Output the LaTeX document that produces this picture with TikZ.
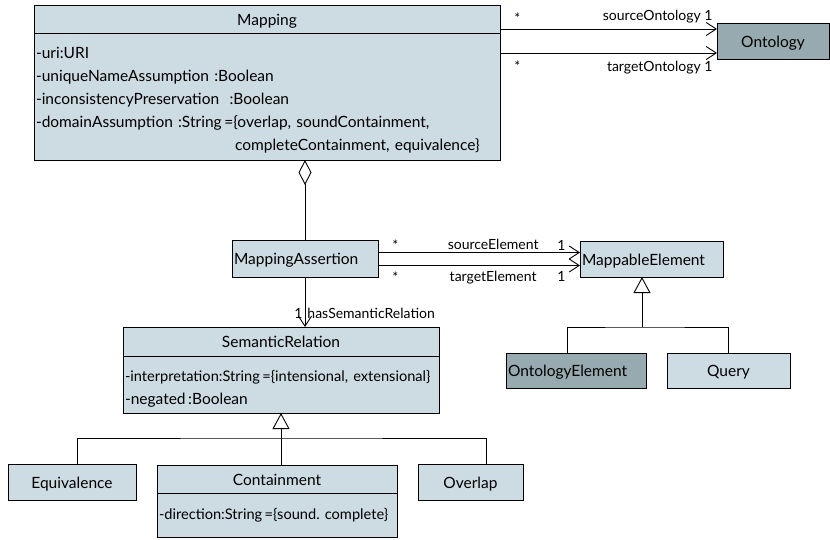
\documentclass[tikz,border=0pt]{standalone}
\usepackage{fontspec}
\setmainfont{Lato}
\usetikzlibrary{arrows.meta}
\definecolor{clslight}{RGB}{205,219,226}
\definecolor{clsdark}{RGB}{151,170,176}
\newcommand{\clsfont}{\fontsize{15.5}{23}\selectfont}
\newcommand{\rolefont}{\fontsize{14}{16}\selectfont}
\newcommand{\toprule}[1]{\rule{0pt}{#1}}
\frenchspacing

\begin{document}
\begin{tikzpicture}[x=1pt, y=-1pt, line width=0.9pt,
  cls/.style={draw, fill=clslight, outer sep=0pt, inner sep=2pt, anchor=north west, font=\clsfont},
  onel/.style={cls, text height=14pt, text depth=2pt},
  darkcls/.style={onel, fill=clsdark},
  attrs/.style={cls, align=left, text width=#1},
  assoc/.style={-{Straight Barb[length=10pt,width=13pt]}},
  gen/.style={-{Triangle[open,fill=white,length=16pt,width=17pt]}},
  aggr/.style={-{Diamond[open,fill=white,length=25pt,width=13pt]}},
  role/.style={font=\rolefont, inner sep=2pt}]
  \useasboundingbox (0,0) rectangle (830,539);

  % classes
  \node[onel, minimum width=466pt, minimum height=28pt] (maptitle) at (34,5) {Mapping};
  \node[attrs=462pt, minimum height=127pt] (mapattr) at (maptitle.south west)
    {\toprule{19pt}-uri:URI\\
     -uniqueNameAssumption :Boolean\\
     -inconsistencyPreservation\ \ :Boolean\\
     -domainAssumption :String\,=\{overlap, soundContainment,\\
     \hspace*{199pt}completeContainment, equivalence\}};
  \node[darkcls, minimum width=112pt, minimum height=36pt] (ontology) at (717,23) {Ontology};
  \node[onel, align=left, text width=142pt, minimum height=37pt] (massert) at (232,240) {MappingAssertion};
  \node[onel, align=left, text width=139pt, minimum height=36pt] (mappable) at (580,241) {MappableElement};
  \node[darkcls, align=left, text width=136pt, minimum height=35pt] (ontelem) at (506,353) {OntologyElement};
  \node[onel, minimum width=123pt, minimum height=35pt] (query) at (667,353) {Query};
  \node[onel, minimum width=316pt, minimum height=29pt] (semtitle) at (123,327) {SemanticRelation};
  \node[attrs=312pt, minimum height=57pt] (semattr) at (semtitle.south west)
    {\toprule{19pt}\mbox{\fontsize{14.6}{23}\selectfont-interpretation:String\,=\{intensional, extensional\}}\\
     -negated\,:Boolean};
  \node[onel, minimum width=128pt, minimum height=36pt] (equiv) at (8,464) {Equivalence};
  \node[onel, minimum width=240pt, minimum height=28pt] (contitle) at (157,465) {Containment};
  \node[attrs=236pt, minimum height=44pt] (conattr) at (contitle.south west)
    {\mbox{\fontsize{14.6}{23}\selectfont-direction:String\,=\{sound. complete\}}};
  \node[onel, minimum width=105pt, minimum height=36pt] (overlap) at (418,464) {Overlap};

  % associations to Ontology
  \coordinate (srcont) at ([yshift=12pt]ontology.west);
  \coordinate (tgtont) at ([yshift=-12pt]ontology.west);
  \draw[assoc] (maptitle.east |- srcont) -- (srcont)
    node[role, pos=0, above right, xshift=12pt, yshift=3pt] {*}
    node[role, pos=1, above left, xshift=-2pt, yshift=3pt] {sourceOntology 1};
  \draw[assoc] (maptitle.east |- tgtont) -- (tgtont)
    node[role, pos=0, below right, xshift=12pt, yshift=-6pt] {*}
    node[role, pos=1, below left, xshift=-2pt, yshift=-6pt] {targetOntology 1};

  % aggregation
  \draw[aggr] (massert.north) -- (massert.north |- mapattr.south);

  % associations to MappableElement
  \coordinate (srcelem) at ([yshift=6.5pt]mappable.west);
  \coordinate (tgtelem) at ([yshift=-6.5pt]mappable.west);
  \draw[assoc] (massert.east |- srcelem) -- (srcelem)
    node[role, pos=0, above right, xshift=12pt] {*}
    node[role, pos=.57, above] {sourceElement}
    node[role, pos=1, above left, xshift=-12pt] {1};
  \draw[assoc] (massert.east |- tgtelem) -- (tgtelem)
    node[role, pos=0, below right, xshift=12pt, yshift=-4pt] {*}
    node[role, pos=.57, below, yshift=-3pt] {targetElement}
    node[role, pos=1, below left, xshift=-12pt, yshift=-3pt] {1};

  % semantic relation
  \draw[assoc] (massert.south) -- (massert.south |- semtitle.north)
    node[role, pos=.72, left] {1}
    node[role, pos=.72, right] {hasSemanticRelation};

  % generalizations
  \coordinate (mebus) at (642,327);
  \draw ([xshift=-9pt]ontelem.north) |- (mebus) -| (query.north);
  \draw[gen] (mebus) -- (mebus |- mappable.south);
  \coordinate (srbus) at (281,438);
  \draw ([xshift=5pt]equiv.north) |- (srbus) -| ([xshift=16pt]overlap.north);
  \draw[gen] (contitle.north -| srbus) -- (srbus |- semattr.south);
\end{tikzpicture}
\end{document}
